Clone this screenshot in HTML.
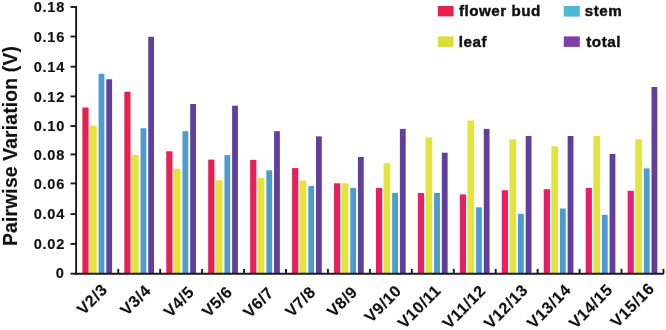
<!DOCTYPE html>
<html><head><meta charset="utf-8"><title>Pairwise Variation</title>
<style>
html,body{margin:0;padding:0;background:#fff;}
body{width:666px;height:330px;overflow:hidden;}
svg{display:block;}
text{font-family:"Liberation Sans",Arial,Helvetica,sans-serif;font-weight:bold;fill:#111;stroke:#111;stroke-width:0.45px;}
.tk{font-size:14.6px;letter-spacing:0.75px;stroke-width:0.15px;}
.lg{font-size:15.2px;letter-spacing:0.5px;}
.yl{font-size:19.3px;letter-spacing:0.18px;stroke-width:0.15px;}
.xl{font-size:16.15px;letter-spacing:0.5px;stroke-width:0.15px;}
</style></head><body>
<svg width="666" height="330" viewBox="0 0 666 330">
<rect x="0" y="0" width="666" height="330" fill="#ffffff"/>
<rect x="82.40" y="107.50" width="6.20" height="166.20" fill="#E6214F"/>
<rect x="90.00" y="125.70" width="6.70" height="148.00" fill="#E3E43C"/>
<rect x="98.60" y="73.75" width="5.80" height="199.95" fill="#4C9BD2"/>
<rect x="106.30" y="79.25" width="5.80" height="194.45" fill="#61409B"/>
<rect x="124.34" y="91.75" width="6.20" height="181.95" fill="#E62151"/>
<rect x="131.94" y="154.80" width="6.70" height="118.90" fill="#E3E43C"/>
<rect x="140.54" y="128.20" width="5.80" height="145.50" fill="#4C9BD2"/>
<rect x="148.24" y="36.75" width="5.80" height="236.95" fill="#61409B"/>
<rect x="166.28" y="151.30" width="6.20" height="122.40" fill="#E62154"/>
<rect x="173.88" y="168.80" width="6.70" height="104.90" fill="#E3E43C"/>
<rect x="182.48" y="131.20" width="5.80" height="142.50" fill="#4C9BD2"/>
<rect x="190.18" y="104.00" width="5.80" height="169.70" fill="#61409B"/>
<rect x="208.22" y="159.60" width="6.20" height="114.10" fill="#E62056"/>
<rect x="215.82" y="180.30" width="6.70" height="93.40" fill="#E3E43C"/>
<rect x="224.42" y="155.10" width="5.80" height="118.60" fill="#4C9BD2"/>
<rect x="232.12" y="105.70" width="5.80" height="168.00" fill="#61409B"/>
<rect x="250.16" y="159.85" width="6.20" height="113.85" fill="#E72059"/>
<rect x="257.76" y="178.00" width="6.70" height="95.70" fill="#E3E43C"/>
<rect x="266.36" y="170.30" width="5.80" height="103.40" fill="#4C9BD2"/>
<rect x="274.06" y="131.20" width="5.80" height="142.50" fill="#61409B"/>
<rect x="292.10" y="168.10" width="6.20" height="105.60" fill="#E7205B"/>
<rect x="299.70" y="180.50" width="6.70" height="93.20" fill="#E3E43C"/>
<rect x="308.30" y="186.00" width="5.80" height="87.70" fill="#4C9BD2"/>
<rect x="316.00" y="136.40" width="5.80" height="137.30" fill="#61409B"/>
<rect x="334.04" y="183.30" width="6.20" height="90.40" fill="#E7205E"/>
<rect x="341.64" y="183.30" width="6.70" height="90.40" fill="#E3E43C"/>
<rect x="350.24" y="187.90" width="5.80" height="85.80" fill="#4C9BD2"/>
<rect x="357.94" y="157.00" width="5.80" height="116.70" fill="#61409B"/>
<rect x="375.98" y="187.90" width="6.20" height="85.80" fill="#E71F60"/>
<rect x="383.58" y="163.20" width="6.70" height="110.50" fill="#E3E43C"/>
<rect x="392.18" y="192.90" width="5.80" height="80.80" fill="#4C9BD2"/>
<rect x="399.88" y="128.90" width="5.80" height="144.80" fill="#61409B"/>
<rect x="417.92" y="192.90" width="6.20" height="80.80" fill="#E71F63"/>
<rect x="425.52" y="137.40" width="6.70" height="136.30" fill="#E3E43C"/>
<rect x="434.12" y="192.90" width="5.80" height="80.80" fill="#4C9BD2"/>
<rect x="441.82" y="152.70" width="5.80" height="121.00" fill="#61409B"/>
<rect x="459.86" y="194.40" width="6.20" height="79.30" fill="#E71F65"/>
<rect x="467.46" y="120.50" width="6.70" height="153.20" fill="#E3E43C"/>
<rect x="476.06" y="207.30" width="5.80" height="66.40" fill="#4C9BD2"/>
<rect x="483.76" y="128.90" width="5.80" height="144.80" fill="#61409B"/>
<rect x="501.80" y="190.20" width="6.20" height="83.50" fill="#E81F68"/>
<rect x="509.40" y="139.30" width="6.70" height="134.40" fill="#E3E43C"/>
<rect x="518.00" y="213.80" width="5.80" height="59.90" fill="#4C9BD2"/>
<rect x="525.70" y="136.00" width="5.80" height="137.70" fill="#61409B"/>
<rect x="543.74" y="189.20" width="6.20" height="84.50" fill="#E81E6A"/>
<rect x="551.34" y="146.40" width="6.70" height="127.30" fill="#E3E43C"/>
<rect x="559.94" y="208.50" width="5.80" height="65.20" fill="#4C9BD2"/>
<rect x="567.64" y="136.00" width="5.80" height="137.70" fill="#61409B"/>
<rect x="585.68" y="187.90" width="6.20" height="85.80" fill="#E81E6D"/>
<rect x="593.28" y="136.00" width="6.70" height="137.70" fill="#E3E43C"/>
<rect x="601.88" y="214.80" width="5.80" height="58.90" fill="#4C9BD2"/>
<rect x="609.58" y="154.00" width="5.80" height="119.70" fill="#61409B"/>
<rect x="627.62" y="190.80" width="6.20" height="82.90" fill="#E81E6F"/>
<rect x="635.22" y="139.30" width="6.70" height="134.40" fill="#E3E43C"/>
<rect x="643.82" y="168.40" width="5.80" height="105.30" fill="#4C9BD2"/>
<rect x="651.52" y="87.00" width="5.80" height="186.70" fill="#61409B"/>
<g stroke="#1a1a1a" stroke-width="1.9" fill="none">
<path d="M76.1 5.9 V274.7"/>
<path d="M75.2 273.7 H663.8"/>
<path d="M70.5 7.00 H76"/>
<path d="M70.5 36.50 H76"/>
<path d="M70.5 66.70 H76"/>
<path d="M70.5 96.40 H76"/>
<path d="M70.5 126.00 H76"/>
<path d="M70.5 154.40 H76"/>
<path d="M70.5 183.40 H76"/>
<path d="M70.5 214.10 H76"/>
<path d="M70.5 243.90 H76"/>
<path d="M70.5 273.70 H76"/>
<path d="M118.24 268.90 V273.70"/>
<path d="M160.18 268.90 V273.70"/>
<path d="M202.12 268.90 V273.70"/>
<path d="M244.06 268.90 V273.70"/>
<path d="M286.00 268.90 V273.70"/>
<path d="M327.94 268.90 V273.70"/>
<path d="M369.88 268.90 V273.70"/>
<path d="M411.82 268.90 V273.70"/>
<path d="M453.76 268.90 V273.70"/>
<path d="M495.70 268.90 V273.70"/>
<path d="M537.64 268.90 V273.70"/>
<path d="M579.58 268.90 V273.70"/>
<path d="M621.52 268.90 V273.70"/>
<path d="M663.46 268.90 V273.70"/>
</g>
<text class="tk" x="65.1" y="12.30" text-anchor="end">0.18</text>
<text class="tk" x="65.1" y="41.80" text-anchor="end">0.16</text>
<text class="tk" x="65.1" y="72.00" text-anchor="end">0.14</text>
<text class="tk" x="65.1" y="101.70" text-anchor="end">0.12</text>
<text class="tk" x="65.1" y="131.30" text-anchor="end">0.10</text>
<text class="tk" x="65.1" y="159.70" text-anchor="end">0.08</text>
<text class="tk" x="65.1" y="188.70" text-anchor="end">0.06</text>
<text class="tk" x="65.1" y="219.40" text-anchor="end">0.04</text>
<text class="tk" x="65.1" y="249.20" text-anchor="end">0.02</text>
<text class="tk" x="64.5" y="278.40" text-anchor="end">0</text>
<text class="yl" transform="translate(16.9 246.0) rotate(-90)">Pairwise Variation (V)</text>
<rect x="437.8" y="6" width="15.8" height="10.4" fill="#E5214E"/>
<rect x="437.8" y="36.4" width="15.8" height="10.5" fill="#D9E03A"/>
<rect x="563.8" y="6" width="16" height="10.6" fill="#4DB9D6"/>
<rect x="563.8" y="36.4" width="16" height="10.5" fill="#7B41A8"/>
<text class="lg" x="459" y="16.2">flower bud</text>
<text class="lg" x="458.8" y="46.9">leaf</text>
<text class="lg" x="584.7" y="16.3">stem</text>
<text class="lg" x="586.3" y="46.9">total</text>
<text class="xl" text-anchor="end" transform="translate(108.4 290.6) rotate(-45.5)">V2/3</text>
<text class="xl" text-anchor="end" transform="translate(151.8 291.4) rotate(-45.5)">V3/4</text>
<text class="xl" text-anchor="end" transform="translate(195.1 293.1) rotate(-45.5)">V4/5</text>
<text class="xl" text-anchor="end" transform="translate(233.4 292.9) rotate(-45.5)">V5/6</text>
<text class="xl" text-anchor="end" transform="translate(274.6 293.7) rotate(-45.5)">V6/7</text>
<text class="xl" text-anchor="end" transform="translate(316.6 292.9) rotate(-45.5)">V7/8</text>
<text class="xl" text-anchor="end" transform="translate(358.4 292.9) rotate(-45.5)">V8/9</text>
<text class="xl" text-anchor="end" transform="translate(402.5 291.7) rotate(-45.5)">V9/10</text>
<text class="xl" text-anchor="end" transform="translate(441.8 291.4) rotate(-45.5)">V10/11</text>
<text class="xl" text-anchor="end" transform="translate(486.6 291.7) rotate(-45.5)">V11/12</text>
<text class="xl" text-anchor="end" transform="translate(528.8 291.1) rotate(-45.5)">V12/13</text>
<text class="xl" text-anchor="end" transform="translate(571.8 290.8) rotate(-45.5)">V13/14</text>
<text class="xl" text-anchor="end" transform="translate(613.6 290.8) rotate(-45.5)">V14/15</text>
<text class="xl" text-anchor="end" transform="translate(655.3 289.6) rotate(-45.5)">V15/16</text>
</svg>
</body></html>
